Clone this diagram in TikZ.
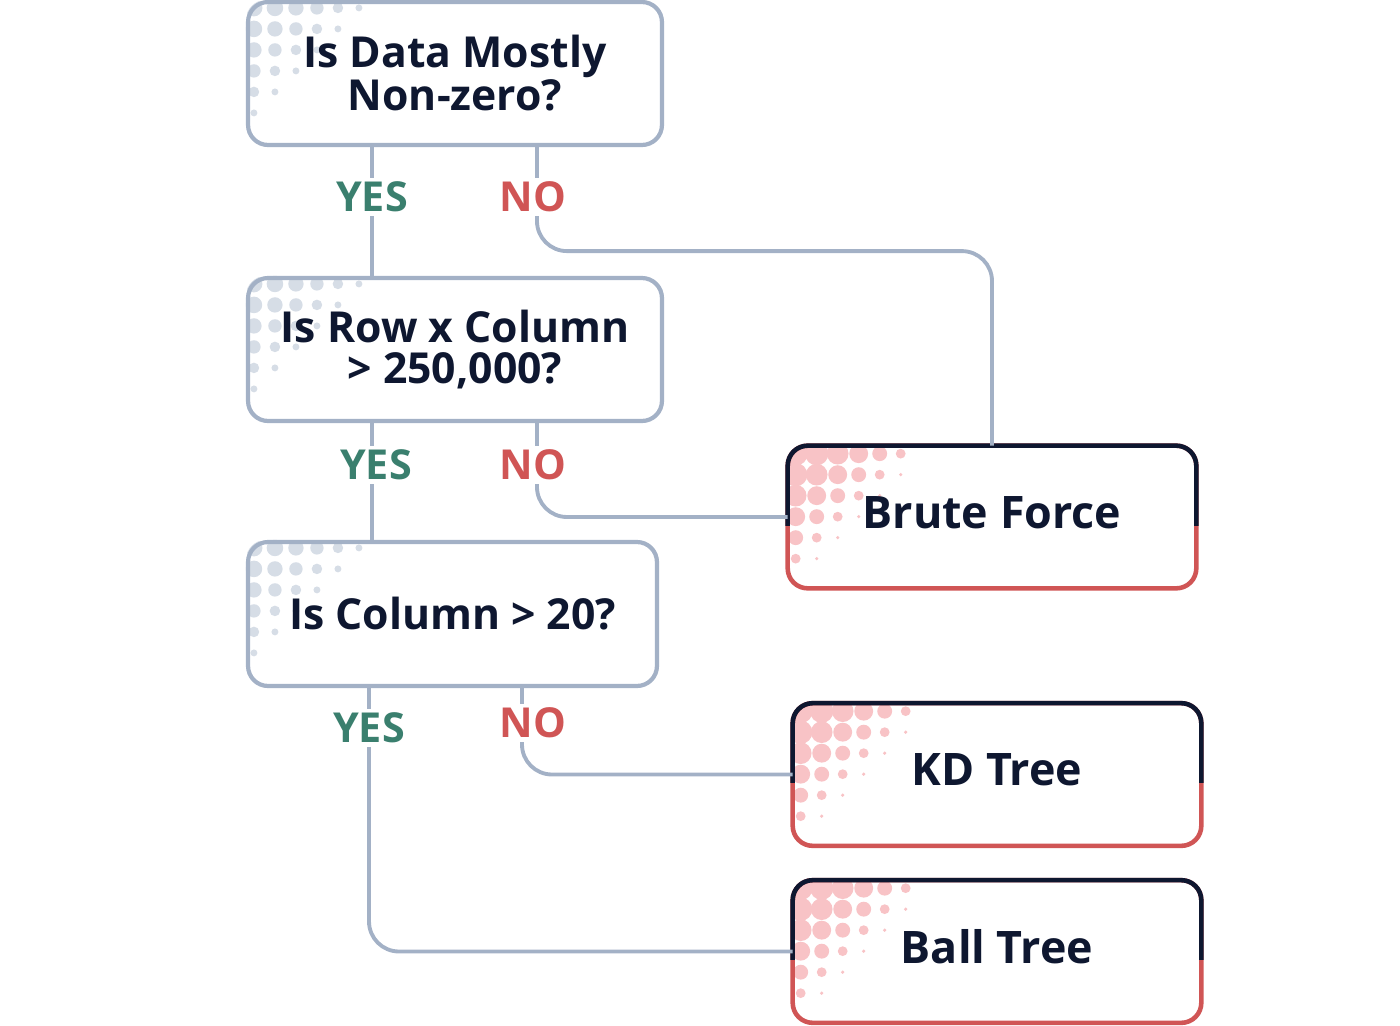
\documentclass[tikz,border=0pt]{standalone}
\usepackage{fontspec}
\setmainfont{Open Sans}
\usetikzlibrary{calc,backgrounds}

\definecolor{navy}{HTML}{0E1730}
\definecolor{linegray}{HTML}{A3B1C6}
\definecolor{yesgreen}{HTML}{3A7F6E}
\definecolor{nored}{HTML}{D05555}
\definecolor{dotgray}{HTML}{D6DDE6}
\definecolor{dotpink}{HTML}{F8C3C6}

\newcommand\qfont{\fontsize{24.3}{23}\selectfont\bfseries}
\newcommand\afont{\fontsize{25.5}{27}\selectfont\bfseries}
\newcommand\lfont{\fontsize{23.5}{24}\selectfont\bfseries}

\tikzset{
  question/.style={draw=linegray, line width=2.4pt, rounded corners=0.4cm,
    minimum width=8.28cm, minimum height=2.86cm, align=center, font=\qfont, text=navy},
  answer/.style={rounded corners=0.4cm, minimum width=8.16cm, minimum height=2.84cm,
    text depth=0.2cm, font=\afont, text=navy},
  link/.style={draw=linegray, line width=2.2pt, rounded corners=0.6cm},
  yes/.style={fill=white, text=yesgreen, font=\lfont, inner sep=2pt},
  no/.style={fill=white, text=nored, font=\lfont, inner sep=2pt},
}

%% dots in the top left corner of a box
\newcommand\halftone[3]{%
  \begin{scope}
    \clip[rounded corners=0.4cm] (#1.north west) rectangle (#1.south east);
    \foreach \i in {0,...,5} \foreach \j in {0,...,5} {
      \pgfmathsetmacro\r{#3*(1-((\i+\j)/6.5)^2)}
      \ifdim\r pt>1.5pt \fill[#2] ($(#1.north west)+(\i*21+8,\j*21+8)$) circle (\r);\fi
    }
  \end{scope}}

%% frame of a result box: dark on top, red below
\newcommand\answerframe[1]{%
  \draw[nored, line width=2.6pt, rounded corners=0.4cm] (#1.north west) rectangle (#1.south east);
  \begin{scope}
    \clip ($(#1.north west)+(-10,-10)$) rectangle ($(#1.east)+(10,8)$);
    \draw[navy, line width=2.6pt, rounded corners=0.4cm] (#1.north west) rectangle (#1.south east);
  \end{scope}}

\begin{document}
\begin{tikzpicture}[x=0.02cm, y=-0.02cm]
  \useasboundingbox (0,0) rectangle (1400,1025);

  %% questions
  \node[question] (q1) at (455,73.5) {Is Data Mostly\\Non-zero?};
  \node[question] (q2) at (455,349.5) {Is Row x Column\\> 250,000?};
  \node[question, minimum width=8.18cm, minimum height=2.88cm] (q3) at (452.5,614) {Is Column > 20?};

  %% results
  \node[answer] (brute) at (992,517) {Brute Force};
  \node[answer] (kd) at (997,774.5) {KD Tree};
  \node[answer] (ball) at (997,951.5) {Ball Tree};
  \answerframe{brute}
  \answerframe{kd}
  \answerframe{ball}

  \begin{pgfonlayer}{background}
    \foreach \n in {q1,q2,q3} \halftone{\n}{dotgray}{8.5};
    \foreach \n in {brute,kd,ball} \halftone{\n}{dotpink}{12};
  \end{pgfonlayer}

  %% connectors
  \draw[link] ([xshift=-1.66cm]q1.south) -- ([xshift=-1.66cm]q1.south |- q2.north);
  \draw[link] ([xshift=1.64cm]q1.south) -- ++(0,104) -| (brute.north);
  \draw[link] ([xshift=-1.66cm]q2.south) -- ([xshift=-1.66cm]q2.south |- q3.north);
  \draw[link] ([xshift=1.64cm]q2.south) |- (brute.west);
  \draw[link] ([xshift=-1.67cm]q3.south) |- (ball.west);
  \draw[link] ([xshift=1.39cm]q3.south) |- (kd.west);

  %% labels
  \node[yes] (yes1) at (372,197) {YES};
  \node[no] (no1) at (533,197) {NO};
  \node[yes] (yes2) at (376,465) {YES};
  \node[no] (no2) at (533,465) {NO};
  \node[yes] (yes3) at (369,728) {YES};
  \node[no] (no3) at (533,723) {NO};
\end{tikzpicture}
\end{document}
